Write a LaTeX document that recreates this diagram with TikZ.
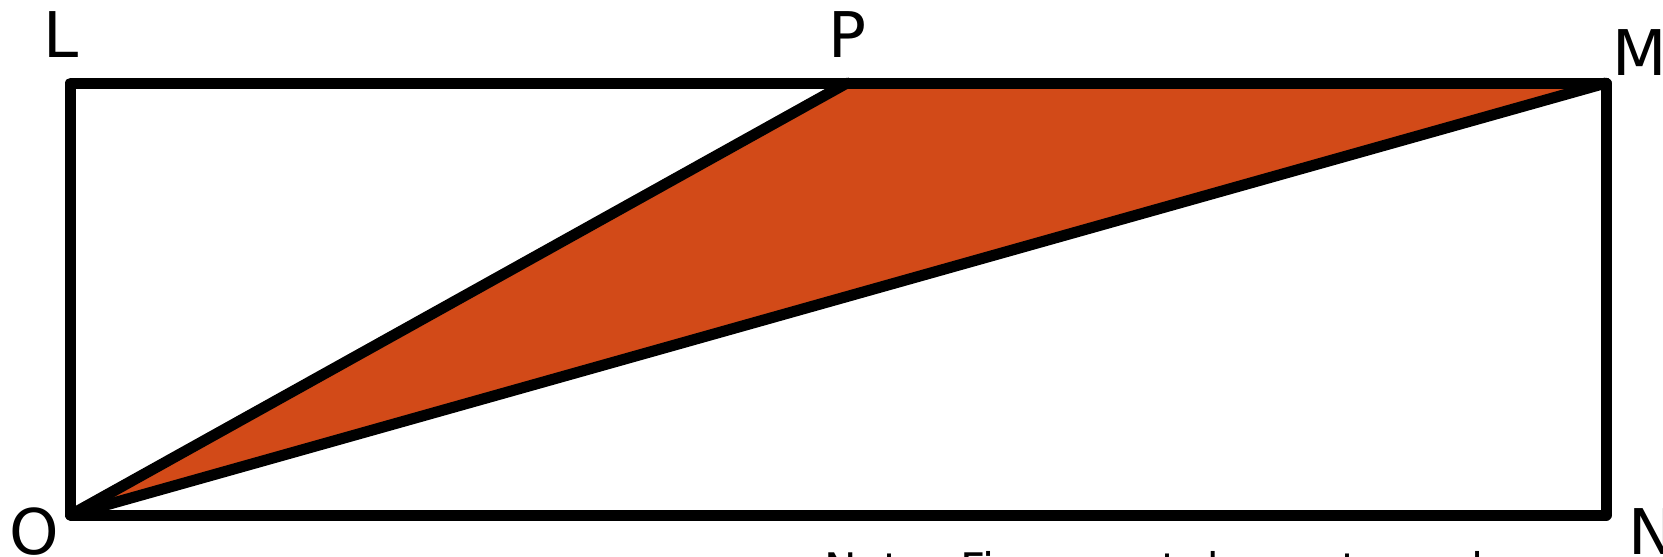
\documentclass[tikz,border=0pt]{standalone}
\usepackage{fontspec}
\setmainfont{DejaVu Sans}
\definecolor{orangefill}{RGB}{210,74,24}
\begin{document}
\begin{tikzpicture}[x=1pt,y=-1pt,
  edge/.style={line width=11pt,line join=round,line cap=round},
  lbl/.style={inner sep=0pt,font=\fontsize{63}{63}\selectfont},
  note/.style={inner sep=0pt,font=\fontsize{43.5}{43.5}\selectfont}]
\useasboundingbox (0,0) rectangle (1663,557);
\coordinate (L) at (70.5,83);
\coordinate (M) at (1606,83);
\coordinate (N) at (1606,515);
\coordinate (O) at (70.5,515);
\coordinate (P) at (847,83);
\fill[fill=orangefill] (O) -- (P) -- (M) -- cycle;
\draw[edge] (O) -- (N) -- (M) -- (L) -- cycle;
\draw[edge] (O) -- (P);
\draw[edge] (O) -- (M);
\node[lbl] (lL) at (61,35) {L};
\node[lbl] (lP) at (847,34.5) {P};
\node[lbl] (lM) at (1640,52.5) {M};
\node[lbl] (lN) at (1652,532) {N};
\node[lbl] (lO) at (34.5,532) {O};
\node[note,anchor=base west] (nt) at (824,584) {Note: Figure not drawn to scale};
\end{tikzpicture}
\end{document}
